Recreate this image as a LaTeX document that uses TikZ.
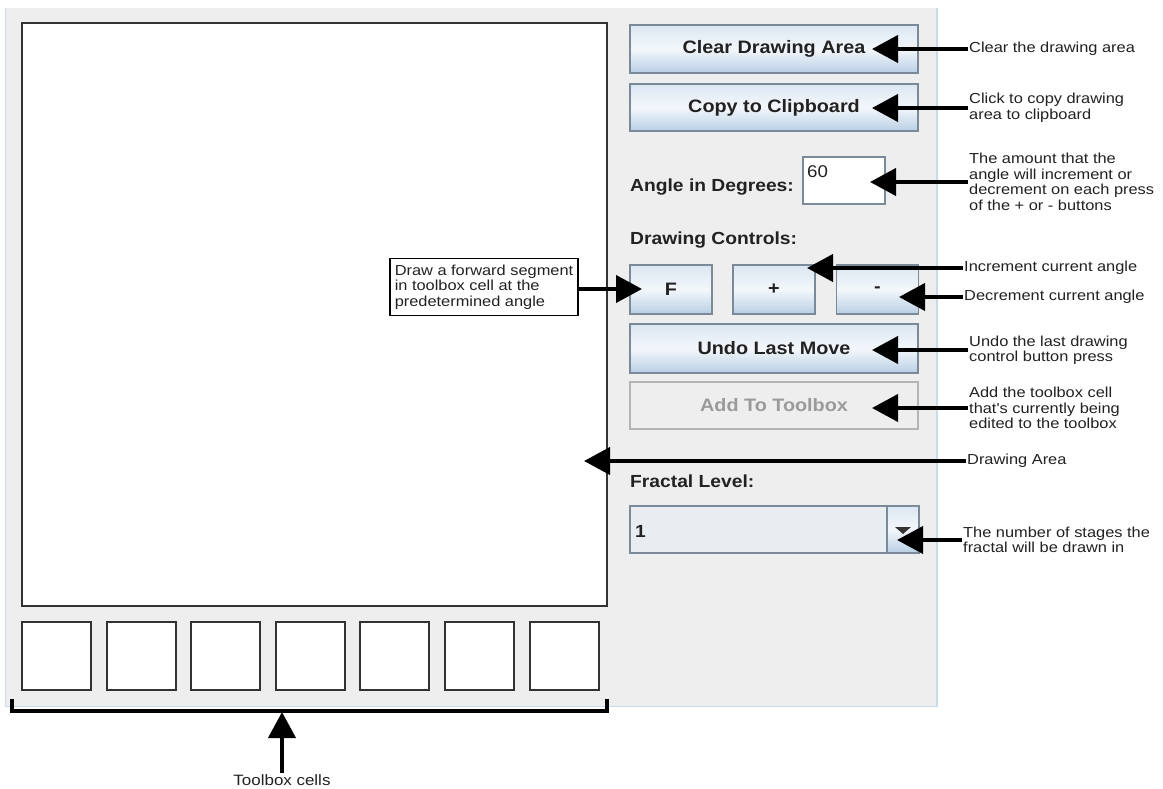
\documentclass[tikz,border=0pt]{standalone}
\usepackage{fontspec}
\setmainfont{Liberation Sans}
\newfontfamily\uifont{Liberation Sans}[FakeStretch=1.1]
\newfontfamily\notefont{Liberation Sans}[FakeStretch=1.13]
\usetikzlibrary{arrows.meta}

\definecolor{panelbg}{HTML}{EEEEEE}
\definecolor{paneledge}{HTML}{C8DAEC}
\definecolor{btnedge}{HTML}{7A8A99}
\definecolor{btntop}{HTML}{DCE7F2}
\definecolor{btnmid}{HTML}{F3F7FB}
\definecolor{btnbot}{HTML}{B9CFE5}
\definecolor{combofill}{HTML}{E8EDF2}
\definecolor{txt}{HTML}{222222}
\definecolor{dimtxt}{HTML}{9A9A9A}
\definecolor{dimedge}{HTML}{B4B4B4}
\definecolor{frame}{HTML}{333333}

\tikzset{
  btn/.style={draw=btnedge, line width=1.2pt, top color=btntop, bottom color=btnbot,
    middle color=btnmid, text=txt, inner sep=0pt,
    font=\uifont\fontsize{18}{18}\selectfont\bfseries},
  dimbtn/.style={draw=dimedge, line width=1.2pt, fill=panelbg, text=dimtxt, inner sep=0pt,
    font=\uifont\fontsize{18}{18}\selectfont\bfseries},
  caption/.style={anchor=west, inner sep=0pt, text=txt,
    font=\uifont\fontsize{17.5}{17.5}\selectfont\bfseries},
  note/.style={anchor=west, align=left, inner sep=1pt, text=txt,
    font=\notefont\fontsize{14.5}{15.5}\selectfont},
  callout/.style={draw=black, line width=4pt, -{Triangle[length=26pt,width=27pt]}},
  cell/.style={draw=frame, line width=1.5pt, fill=white, minimum width=69pt,
    minimum height=68pt, inner sep=0pt},
}

\begin{document}
\begin{tikzpicture}[x=1pt, y=-1pt]
  \useasboundingbox (0,0) rectangle (1163,789);
  \fill[white] (0,0) rectangle (1163,789);

  % application panel
  \fill[panelbg] (5,8) rectangle (937,707);
  \draw[paneledge, line width=1.5pt] (5.5,8) -- (5.5,706.5) -- (937,706.5) -- (937,8);

  % drawing area
  \node[draw=frame, line width=2pt, fill=white, minimum width=585pt, minimum height=583pt,
    inner sep=0pt] (area) at (314.5,314.5) {};

  % toolbox cells
  \foreach \i/\x in {1/56.5, 2/141.5, 3/225.5, 4/310.5, 5/394.5, 6/479.5, 7/564.5}
    \node[cell] (cell\i) at (\x,656) {};

  % control column
  \node[btn, minimum width=288pt, minimum height=48pt] (clear) at (774,49) {Clear Drawing Area};
  \node[btn, minimum width=288pt, minimum height=47pt] (copy) at (774,107.5) {Copy to Clipboard};

  \node[caption] (anglecap) at (630,187) {Angle in Degrees:};
  \node[draw=btnedge, line width=1.2pt, fill=white, minimum width=82pt, minimum height=47pt,
    inner sep=0pt] (anglefield) at (844,180.5) {};
  \node[anchor=west, inner sep=0pt, text=txt, font=\uifont\fontsize{17}{17}\selectfont]
    (anglevalue) at (807,172) {60};

  \node[caption] (ctrlcap) at (630,240) {Drawing Controls:};
  \node[btn, minimum width=82pt, minimum height=49pt] (fwd) at (671,289.5) {F};
  \node[btn, minimum width=82pt, minimum height=49pt] (inc) at (774,289.5) {+};
  \node[btn, minimum width=82pt, minimum height=49pt] (dec) at (877.5,289.5) {-};

  \node[btn, minimum width=288pt, minimum height=49pt] (undo) at (774,348.5) {Undo Last Move};
  \node[dimbtn, minimum width=288pt, minimum height=47pt] (addtb) at (774,405.5) {Add To Toolbox};

  \node[caption] (levelcap) at (630,481) {Fractal Level:};
  \node[draw=btnedge, line width=1.2pt, fill=combofill, minimum width=288pt, minimum height=47pt,
    inner sep=0pt] (combo) at (774,529.5) {};
  \node[anchor=west, inner sep=0pt, text=txt, font=\uifont\fontsize{17.5}{17.5}\selectfont\bfseries]
    (levelvalue) at (635,531) {1};
  \node[btn, minimum width=32pt, minimum height=47pt] (combobtn) at (903,529.5) {};
  \fill[frame] (895,527) -- (911,527) -- (903,534) -- cycle;

  % annotations
  \node[note] (lclear) at (968,49) {Clear the drawing area};
  \node[note] (lcopy) at (968,108) {Click to copy drawing\\area to clipboard};
  \node[note] (langle) at (968,182) {The amount that the\\angle will increment or\\decrement on each press\\of the + or - buttons};
  \node[note] (linc) at (963,268) {Increment current angle};
  \node[note] (ldec) at (963,297) {Decrement current angle};
  \node[note] (lundo) at (968,350) {Undo the last drawing\\control button press};
  \node[note] (ladd) at (968,408) {Add the toolbox cell\\that's currently being\\edited to the toolbox};
  \node[note] (larea) at (966,461) {Drawing Area};
  \node[note] (llevel) at (962,540) {The number of stages the\\fractal will be drawn in};
  \node[draw=black, line width=1.5pt, fill=white, align=left, inner xsep=5pt, inner ysep=6pt,
    text=txt, font=\notefont\fontsize{14.5}{15.5}\selectfont, anchor=west] (lfwd) at (389,287)
    {Draw a forward segment\\in toolbox cell at the\\predetermined angle};
  \node[inner sep=1pt, text=txt, font=\notefont\fontsize{15}{15}\selectfont] (ltool) at (282,780) {Toolbox cells};

  % arrow tips inside the controls
  \coordinate (tclear) at (872,49);
  \coordinate (tcopy) at (872,108);
  \coordinate (tangle) at (870,182);
  \coordinate (tinc) at (807,268);
  \coordinate (tdec) at (899,297);
  \coordinate (tundo) at (872,350);
  \coordinate (tadd) at (872,408);
  \coordinate (tarea) at (584,461);
  \coordinate (tlevel) at (897,540);
  \coordinate (tfwd) at (642,289);
  \coordinate (ttool) at (282,712);

  \draw[callout] (lclear.west) -- (tclear);
  \draw[callout] (lcopy.west) -- (tcopy);
  \draw[callout] (langle.west) -- (tangle);
  \draw[callout] (linc.west) -- (tinc);
  \draw[callout] (ldec.west) -- (tdec);
  \draw[callout] (lundo.west) -- (tundo);
  \draw[callout] (ladd.west) -- (tadd);
  \draw[callout] (larea.west) -- (tarea);
  \draw[callout] (llevel.west) -- (tlevel);
  \draw[callout] (lfwd.east |- tfwd) -- (tfwd);
  \draw[callout] (ltool.north) -- (ttool);

  % bracket under the toolbox cells
  \draw[black, line width=4pt] (12,699) -- (12,711) -- (607,711) -- (607,699);
\end{tikzpicture}
\end{document}
